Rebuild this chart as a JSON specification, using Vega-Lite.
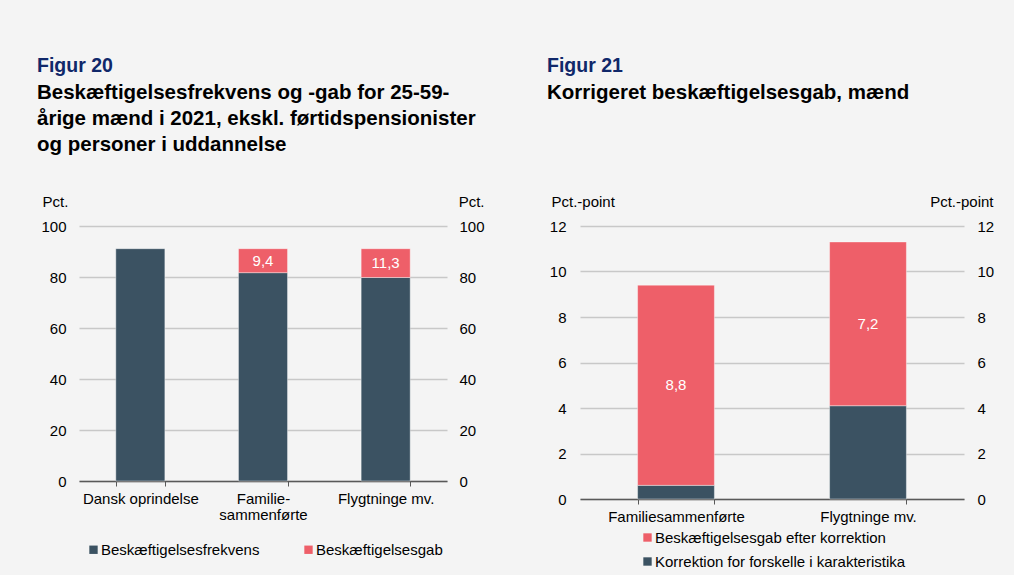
{
  "$schema": "https://vega.github.io/schema/vega-lite/v6.json",
  "background": "#f4f4f4",
  "padding": {"left": 37, "top": 56, "right": 20, "bottom": 5},
  "spacing": 62,
  "resolve": {"scale": {"color": "independent"}, "legend": {"color": "independent"}},
  "config": {
    "font": "Liberation Sans",
    "view": {"stroke": null},
    "axis": {
      "labelFont": "Liberation Sans",
      "labelFontSize": 15,
      "labelColor": "#000000",
      "titleFont": "Liberation Sans",
      "titleFontSize": 15,
      "titleFontWeight": "normal",
      "titleColor": "#000000",
      "gridColor": "#c8c8c8",
      "gridWidth": 1.3
    },
    "legend": {
      "labelFont": "Liberation Sans",
      "labelFontSize": 15,
      "labelColor": "#000000",
      "symbolType": "square",
      "symbolSize": 70,
      "symbolStrokeWidth": 0,
      "labelLimit": 0,
      "labelOffset": 0,
      "padding": 0
    },
    "title": {
      "font": "Liberation Sans",
      "fontSize": 19.5,
      "fontWeight": "bold",
      "color": "#10286a",
      "subtitleFont": "Liberation Sans",
      "subtitleFontSize": 20.5,
      "subtitleFontWeight": "bold",
      "subtitleColor": "#000000",
      "subtitleLineHeight": 26,
      "subtitlePadding": 6,
      "anchor": "start",
      "frame": "group"
    }
  },
  "hconcat": [
    {
      "width": 368,
      "height": 255,
      "title": {
        "text": "Figur 20",
        "subtitle": ["Beskæftigelsesfrekvens og -gab for 25-59-", "årige mænd i 2021, ekskl. førtidspensionister", "og personer i uddannelse"],
        "dx": -42,
        "offset": 38
      },
      "data": {
        "values": [
          {"cat": "Dansk oprindelse", "series": "Beskæftigelsesfrekvens", "value": 91.1, "label": null},
          {"cat": "Familie-sammenførte", "series": "Beskæftigelsesfrekvens", "value": 81.7, "label": null},
          {"cat": "Familie-sammenførte", "series": "Beskæftigelsesgab", "value": 9.4, "label": "9,4"},
          {"cat": "Flygtninge mv.", "series": "Beskæftigelsesfrekvens", "value": 79.8, "label": null},
          {"cat": "Flygtninge mv.", "series": "Beskæftigelsesgab", "value": 11.3, "label": "11,3"}
        ]
      },
      "transform": [
        {"stack": "value", "groupby": ["cat"], "sort": [{"field": "series", "order": "ascending"}], "as": ["v0", "v1"]},
        {"calculate": "(datum.v0 + datum.v1) / 2", "as": "mid"}
      ],
      "layer": [
        {
          "mark": {"type": "bar", "stroke": "#ffffff", "strokeWidth": 0.8, "strokeOpacity": 0.5},
          "encoding": {
            "x": {
              "field": "cat", "type": "nominal",
              "sort": ["Dansk oprindelse", "Familie-sammenførte", "Flygtninge mv."],
              "scale": {"paddingInner": 0.6, "paddingOuter": 0.3},
              "axis": {
                "title": null, "labelAngle": 0, "tickBand": "extent",
                "domainColor": "#595959", "tickColor": "#595959", "domainWidth": 1.3,
                "tickSize": 5, "labelPadding": 5, "labelLineHeight": 16, "labelBaseline": "top",
                "labelExpr": "datum.value == 'Familie-sammenførte' ? ['Familie-', 'sammenførte'] : datum.label"
              }
            },
            "y": {
              "field": "v1", "type": "quantitative",
              "scale": {"domain": [0, 100]},
              "axis": {
                "orient": "left", "title": "Pct.", "titleAngle": 0, "titleAlign": "left",
                "titleX": -37, "titleY": -20, "titleBaseline": "alphabetic",
                "values": [0, 20, 40, 60, 80, 100], "domain": false, "ticks": false, "tickSize": 0,
                "labelPadding": 13, "grid": true
              }
            },
            "y2": {"field": "v0"},
            "color": {
              "field": "series", "type": "nominal",
              "scale": {"domain": ["Beskæftigelsesfrekvens", "Beskæftigelsesgab"], "range": ["#3b5262", "#ee5f69"]},
              "legend": {"orient": "none", "legendX": 7, "legendY": 316, "direction": "horizontal", "title": null, "columnPadding": 41}
            }
          }
        },
        {
          "transform": [{"filter": "datum.label != null"}],
          "mark": {"type": "text", "color": "#ffffff", "fontSize": 15, "baseline": "middle"},
          "encoding": {
            "x": {"field": "cat", "type": "nominal", "sort": ["Dansk oprindelse", "Familie-sammenførte", "Flygtninge mv."]},
            "y": {
              "field": "mid", "type": "quantitative",
              "axis": {
                "orient": "right", "title": "Pct.", "titleAngle": 0, "titleAlign": "right",
                "titleX": 37, "titleY": -20, "titleBaseline": "alphabetic",
                "values": [0, 20, 40, 60, 80, 100], "domain": false, "ticks": false, "tickSize": 0,
                "labelPadding": 12, "grid": false
              }
            },
            "text": {"field": "label"}
          }
        }
      ],
      "resolve": {"axis": {"y": "independent"}}
    },
    {
      "width": 384,
      "height": 273,
      "title": {
        "text": "Figur 21",
        "subtitle": ["Korrigeret beskæftigelsesgab, mænd"],
        "dx": -33,
        "offset": 90
      },
      "data": {
        "values": [
          {"cat": "Familiesammenførte", "series": "Korrektion for forskelle i karakteristika", "value": 0.6, "label": null},
          {"cat": "Familiesammenførte", "series": "Beskæftigelsesgab efter korrektion", "value": 8.8, "label": "8,8"},
          {"cat": "Flygtninge mv.", "series": "Korrektion for forskelle i karakteristika", "value": 4.1, "label": null},
          {"cat": "Flygtninge mv.", "series": "Beskæftigelsesgab efter korrektion", "value": 7.2, "label": "7,2"}
        ]
      },
      "transform": [
        {"stack": "value", "groupby": ["cat"], "sort": [{"field": "series", "order": "descending"}], "as": ["v0", "v1"]},
        {"calculate": "(datum.v0 + datum.v1) / 2", "as": "mid"}
      ],
      "layer": [
        {
          "mark": {"type": "bar", "stroke": "#ffffff", "strokeWidth": 0.8, "strokeOpacity": 0.5},
          "encoding": {
            "x": {
              "field": "cat", "type": "nominal",
              "sort": ["Familiesammenførte", "Flygtninge mv."],
              "scale": {"paddingInner": 0.6, "paddingOuter": 0.3},
              "axis": {
                "title": null, "labelAngle": 0, "tickBand": "extent",
                "domainColor": "#595959", "tickColor": "#595959", "domainWidth": 1.3,
                "tickSize": 5, "labelPadding": 5, "labelBaseline": "top"
              }
            },
            "y": {
              "field": "v1", "type": "quantitative",
              "scale": {"domain": [0, 12]},
              "axis": {
                "orient": "left", "title": "Pct.-point", "titleAngle": 0, "titleAlign": "left",
                "titleX": -29, "titleY": -20, "titleBaseline": "alphabetic",
                "values": [0, 2, 4, 6, 8, 10, 12], "domain": false, "ticks": false, "tickSize": 0,
                "labelPadding": 14, "grid": true
              }
            },
            "y2": {"field": "v0"},
            "color": {
              "field": "series", "type": "nominal",
              "scale": {"domain": ["Beskæftigelsesgab efter korrektion", "Korrektion for forskelle i karakteristika"], "range": ["#ee5f69", "#3b5262"]},
              "legend": {"orient": "none", "legendX": 60, "legendY": 304, "direction": "vertical", "title": null, "rowPadding": 8}
            }
          }
        },
        {
          "transform": [{"filter": "datum.label != null"}],
          "mark": {"type": "text", "color": "#ffffff", "fontSize": 15, "baseline": "middle"},
          "encoding": {
            "x": {"field": "cat", "type": "nominal", "sort": ["Familiesammenførte", "Flygtninge mv."]},
            "y": {
              "field": "mid", "type": "quantitative",
              "axis": {
                "orient": "right", "title": "Pct.-point", "titleAngle": 0, "titleAlign": "right",
                "titleX": 29, "titleY": -20, "titleBaseline": "alphabetic",
                "values": [0, 2, 4, 6, 8, 10, 12], "domain": false, "ticks": false, "tickSize": 0,
                "labelPadding": 13, "grid": false
              }
            },
            "text": {"field": "label"}
          }
        }
      ],
      "resolve": {"axis": {"y": "independent"}}
    }
  ]
}
